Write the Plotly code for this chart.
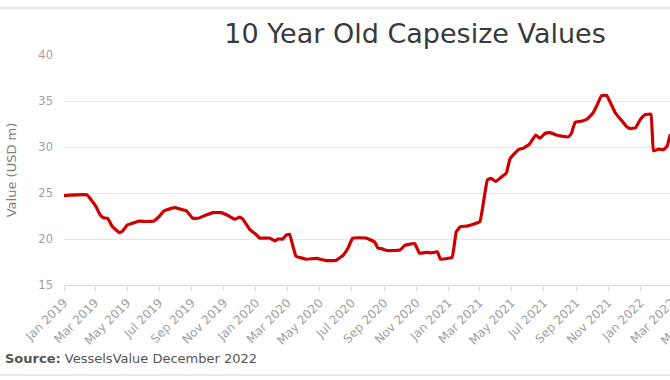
import plotly.graph_objects as go

dates = [
    "2019-01-01", "2019-02-13", "2019-02-22", "2019-03-02", "2019-03-11", "2019-03-17",
    "2019-03-25", "2019-04-03", "2019-04-16", "2019-04-22", "2019-05-01", "2019-05-11",
    "2019-05-24", "2019-06-06", "2019-06-21", "2019-07-01", "2019-07-10", "2019-07-30",
    "2019-08-09", "2019-08-22", "2019-09-03", "2019-09-13", "2019-09-28", "2019-10-11",
    "2019-10-27", "2019-11-09", "2019-11-22", "2019-12-01", "2019-12-07", "2019-12-20",
    "2020-01-02", "2020-01-08", "2020-01-27", "2020-02-06", "2020-02-12", "2020-02-21",
    "2020-02-28", "2020-03-05", "2020-03-17", "2020-04-06", "2020-04-25", "2020-05-14",
    "2020-06-02", "2020-06-15", "2020-06-24", "2020-07-03", "2020-07-29", "2020-08-14",
    "2020-08-20", "2020-08-27", "2020-09-06", "2020-09-18", "2020-10-01", "2020-10-10",
    "2020-10-20", "2020-10-29", "2020-11-07", "2020-11-21", "2020-11-30", "2020-12-11",
    "2020-12-17", "2020-12-26", "2021-01-08", "2021-01-16", "2021-01-24", "2021-02-05",
    "2021-02-20", "2021-03-02", "2021-03-16", "2021-03-23", "2021-04-01", "2021-04-11",
    "2021-04-21", "2021-04-28", "2021-05-07", "2021-05-15", "2021-05-23", "2021-06-04",
    "2021-06-16", "2021-06-24", "2021-07-03", "2021-07-12", "2021-07-25", "2021-08-07",
    "2021-08-17", "2021-08-23", "2021-08-30", "2021-09-08", "2021-09-21", "2021-10-03",
    "2021-10-11", "2021-10-19", "2021-10-29", "2021-11-04", "2021-11-14", "2021-11-23",
    "2021-12-06", "2021-12-13", "2021-12-23", "2022-01-01", "2022-01-10", "2022-01-21",
    "2022-01-26", "2022-02-05", "2022-02-14", "2022-02-21", "2022-02-27",
]
values = [
    24.72, 24.8, 24.25, 23.6, 22.6, 22.3,
    22.25, 21.35, 20.7, 20.85, 21.5, 21.7,
    21.95, 21.9, 21.95, 22.45, 23.05, 23.4,
    23.27, 23.05, 22.25, 22.25, 22.6, 22.87,
    22.87, 22.55, 22.15, 22.37, 22.15, 21.05,
    20.45, 20.1, 20.1, 19.8, 20.0, 20.0,
    20.45, 20.5, 18.15, 17.8, 17.9, 17.65,
    17.7, 18.25, 19.0, 20.1, 20.1, 19.65,
    19.0, 18.95, 18.75, 18.75, 18.8, 19.3,
    19.45, 19.5, 18.45, 18.55, 18.5, 18.6,
    17.8, 17.85, 18.0, 20.8, 21.35, 21.4,
    21.65, 21.9, 26.4, 26.6, 26.25, 26.7,
    27.15, 28.7, 29.3, 29.75, 29.85, 30.3,
    31.3, 30.95, 31.45, 31.6, 31.3, 31.15,
    31.1, 31.5, 32.7, 32.77, 33.0, 33.7,
    34.6, 35.57, 35.6, 34.95, 33.75, 33.1,
    32.2, 32.0, 32.1, 33.0, 33.5, 33.57,
    29.6, 29.77, 29.7, 30.1, 31.4,
]

title_text = "10 Year Old Capesize Values"
y_title = "Value (USD m)"
source_text = "<b>Source:</b> VesselsValue December 2022"

W, H = 830, 380
L, T, B = 64, 55, 95
plot_w = 752
R = W - L - plot_w
plot_h = H - T - B

fig = go.Figure()
fig.add_trace(go.Scatter(
    x=dates, y=values, mode="lines",
    line=dict(color="#cc0000", width=3.2, shape="spline", smoothing=0.3),
    hoverinfo="skip",
))

font_family = "DejaVu Sans"

fig.update_layout(
    width=W, height=H,
    margin=dict(l=L, r=R, t=T, b=B),
    paper_bgcolor="white", plot_bgcolor="white",
    showlegend=False,
    font=dict(family=font_family),
    title=dict(
        text=title_text, x=415 / W, xref="container", xanchor="center",
        y=1 - 34 / H, yref="container", yanchor="middle",
        font=dict(size=27, color="#3a3a3a", family=font_family),
    ),
    xaxis=dict(
        type="date",
        range=["2019-01-01", "2022-12-01"],
        dtick="M2", tick0="2019-01-01",
        tickformat="%b %Y", tickangle=-45,
        tickfont=dict(size=12, color="#a0a0a0"),
        showgrid=False, zeroline=False,
        showline=True, linecolor="#dcdcdc", linewidth=1,
        ticks="outside", ticklen=5, tickcolor="#dcdcdc",
    ),
    yaxis=dict(
        range=[15, 40], dtick=5,
        tickfont=dict(size=11.5, color="#a0a0a0"),
        showgrid=True, gridcolor="#e6e6e6", gridwidth=1,
        zeroline=False, showline=False, ticks="",
        ticklabelstandoff=10,
        title=dict(text=y_title, font=dict(size=13, color="#808080"), standoff=18),
    ),
    annotations=[dict(
        text=source_text, xref="paper", yref="paper",
        x=(3 - L) / plot_w, y=(285 - 358) / plot_h,
        xanchor="left", yanchor="middle", showarrow=False,
        font=dict(size=13, color="#555555", family=font_family),
    )],
    shapes=[
        dict(type="line", xref="paper", yref="paper",
             x0=-L / plot_w, x1=1 + R / plot_w,
             y0=(285 - 8) / plot_h, y1=(285 - 8) / plot_h,
             line=dict(color="#e8e8e8", width=2)),
        dict(type="line", xref="paper", yref="paper",
             x0=-L / plot_w, x1=1 + R / plot_w,
             y0=(285 - 375) / plot_h, y1=(285 - 375) / plot_h,
             line=dict(color="#e8e8e8", width=2)),
    ],
)

fig.write_html(
    "out.html",
    config={"displayModeBar": False},
    post_script="document.body.style.margin='0';document.body.style.overflow='hidden';document.documentElement.style.overflow='hidden';",
)
